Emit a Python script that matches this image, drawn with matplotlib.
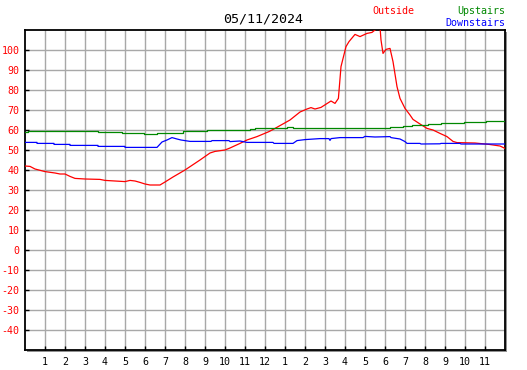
import matplotlib
matplotlib.use("Agg")
import matplotlib.pyplot as plt
from matplotlib.patches import Rectangle

# hours since midnight and temperatures
out_h = [0, 0.25, 0.5, 1.0, 1.5, 1.75, 2.0, 2.25, 2.5, 3.0, 3.75, 4.0, 4.5, 5.0, 5.25,
         5.5, 5.75, 6.0, 6.25, 6.75, 7.0, 7.4, 8.0, 8.75, 9.25, 9.5, 10.0, 10.25, 10.75,
         11.1, 11.6, 12.2, 12.5, 13.25, 13.75, 14.1, 14.3, 14.5, 14.8, 15.3, 15.5, 15.67,
         15.8, 16.05, 16.2, 16.5, 16.75, 17.1, 17.35, 17.5, 17.75, 17.8, 17.9, 18.05,
         18.25, 18.4, 18.6, 18.75, 19.0, 19.25, 19.4, 19.75, 20.1, 20.4, 20.75, 21.1,
         21.4, 21.6, 22.5, 23.2, 23.75, 24]
out_t = [42, 41.8, 40.5, 39.2, 38.5, 38, 38, 36.8, 35.8, 35.5, 35.3, 34.8, 34.5, 34.2, 34.8,
         34.5, 33.8, 33, 32.5, 32.5, 34, 36.5, 40, 45, 48.5, 49.3, 50, 51, 53.3,
         55, 56.7, 59.2, 60.8, 65, 69, 70.5, 71.2, 70.5, 71.3, 74.5, 73.3, 75.8,
         91.7, 101.7, 104.2, 107.8, 106.7, 108.3, 108.8, 110, 111.5, 105, 98.3, 100.3,
         100.8, 94.2, 81.7, 75.8, 70.8, 67.5, 65.3, 63, 60.8, 60, 58.3, 56.7,
         54.3, 53.7, 53.5, 52.8, 52, 50.8]

up_h = [0, 0.15, 3.65, 4.85, 5.95, 6.6, 7.9, 9.1, 11.25, 11.5, 13.1, 13.4, 18.25, 18.9,
        19.35, 20.15, 20.8, 21.95, 23.05, 24]
up_t = [58.8, 59.5, 58.8, 58.3, 57.8, 58.7, 59.3, 60, 60.5, 61, 61.7, 61, 61.3, 62,
        62.5, 62.8, 63.3, 63.8, 64.3, 64.3]

down_h = [0, 0.6, 0.6, 1.45, 1.45, 2.25, 2.25, 3.65, 3.65, 5.0, 5.0, 6.6, 6.85, 7.1, 7.35,
          7.6, 7.8, 8.25, 9.3, 9.35, 10.2, 10.25, 10.75, 11.1, 12.4, 12.45, 13.4, 13.6,
          14.0, 14.75, 15.2, 15.25, 15.3, 15.75, 16.9, 17.0, 17.5, 18.25, 18.3, 18.75,
          19.0, 19.1, 19.75, 19.8, 20.75, 20.8, 21.75, 21.8, 24]
down_t = [53.8, 53.8, 53.3, 53.3, 52.8, 52.8, 52.3, 52.3, 51.8, 51.8, 51.3, 51.3, 54, 55, 56.2,
          55.5, 55, 54.3, 54.3, 54.7, 54.7, 54.2, 54.5, 53.8, 53.8, 53.3, 53.3, 54.7,
          55.2, 55.7, 55.7, 54.8, 55.7, 56.2, 56.2, 56.8, 56.5, 56.7, 56.2, 55.5,
          54.2, 53.3, 53.3, 53, 53.1, 53.3, 53.3, 53, 53]

hour_ticks = list(range(1, 24))
hour_labels = [str(h if h <= 12 else h - 12) for h in hour_ticks]
temp_ticks = list(range(-40, 101, 10))

plt.rcParams['font.family'] = 'DejaVu Sans Mono'

W, H = 527, 370
fig = plt.figure(figsize=(W / 100, H / 100), dpi=100)
L, B, R, T = 25, 20, 505, 340  # plot box in pixels (from bottom)
ax = fig.add_axes([L / W, B / H, (R - L) / W, (T - B) / H], zorder=2)

# drop shadow
fig.patches.append(Rectangle(((L + 2) / W, (B - 2) / H), (R - L) / W, (T - B) / H,
                             transform=fig.transFigure, facecolor='#909090',
                             edgecolor='none', zorder=1))

ax.plot(out_h, out_t, color='#ff0000', lw=0.9, zorder=3)
ax.plot(up_h, up_t, color='#008800', lw=0.9, drawstyle='steps-post', zorder=3)
ax.plot(down_h, down_t, color='#0000ff', lw=0.9, zorder=3)

ax.set_xlim(0, 24)
ax.set_ylim(-50, 110)
ax.set_xticks(hour_ticks)
ax.set_xticklabels(hour_labels)
ax.set_yticks(temp_ticks)
ax.set_yticklabels([str(t) for t in temp_ticks], color='#ff0000')
ax.tick_params(direction='in', length=3, width=1, labelsize=7.2, pad=4)
ax.tick_params(axis='x', pad=5)
ax.grid(True, color='#a8a8a8', lw=1)
ax.set_axisbelow(True)
for s in ax.spines.values():
    s.set_color('black')
    s.set_linewidth(1.3)

fig.text(263 / W, 1 - 19 / H, '05/11/2024', ha='center', va='center', fontsize=9.6)
fig.text(393 / W, 1 - 11 / H, 'Outside', ha='center', va='center', fontsize=7.2, color='#ff0000')
fig.text(505 / W, 1 - 11 / H, 'Upstairs', ha='right', va='center', fontsize=7.2, color='#008800')
fig.text(505 / W, 1 - 23 / H, 'Downstairs', ha='right', va='center', fontsize=7.2, color='#0000ff')

fig.savefig('out.png', dpi=100, facecolor='white')
